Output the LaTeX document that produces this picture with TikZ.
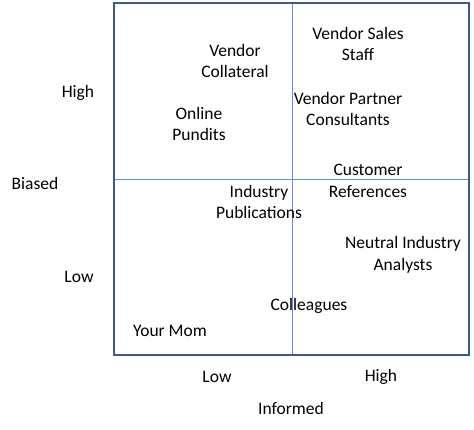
\documentclass[tikz,border=0pt]{standalone}
\usepackage{fontspec}
\setmainfont{Carlito}
\usetikzlibrary{positioning,calc}

\definecolor{framecol}{HTML}{3F5A86}
\definecolor{gridcol}{HTML}{6B8DC8}

\begin{document}
\begin{tikzpicture}[x=1pt,y=-1pt,
  lab/.style={align=center,inner sep=0pt,font=\fontsize{17.5}{21.5}\selectfont}]
\useasboundingbox (0,0) rectangle (474,429);
% quadrant frame with the two dividing lines
\coordinate (tl) at (114,3);
\coordinate (br) at (469,355);
\coordinate (vt) at (292,3);
\coordinate (vb) at (292,355);
\coordinate (hl) at (114,179);
\coordinate (hr) at (469,179);
\draw[gridcol,line width=0.9pt] (vt) -- (vb);
\draw[gridcol,line width=0.9pt] (hl) -- (hr);
\draw[framecol,line width=1.6pt] (tl) rectangle (br);
% sources placed by how biased / informed they are
\foreach \nm/\cx/\cy/\txt in {%
  collateral/235/61/{Vendor\\Collateral},%
  pundits/199/124/{Online\\Pundits},%
  sales/358/44/{Vendor Sales\\Staff},%
  partner/348/109/{Vendor Partner\\Consultants},%
  refs/368/181/{Customer\\References},%
  pubs/259/202/{Industry\\Publications},%
  analysts/403/255/{Neutral Industry\\Analysts},%
  colleagues/309/306/{Colleagues},%
  mom/170/331/{Your Mom}}{
  \node[lab] (\nm) at (\cx,\cy) {\txt};
}
% axis labels
\foreach \nm/\cx/\cy/\txt in {%
  bhigh/78/93/{High},%
  biased/35/183/{Biased},%
  blow/79/277/{Low},%
  ilow/217/377/{Low},%
  ihigh/381/377/{High},%
  informed/291/408/{Informed}}{
  \node[lab] (\nm) at (\cx,\cy) {\txt};
}
\end{tikzpicture}
\end{document}
